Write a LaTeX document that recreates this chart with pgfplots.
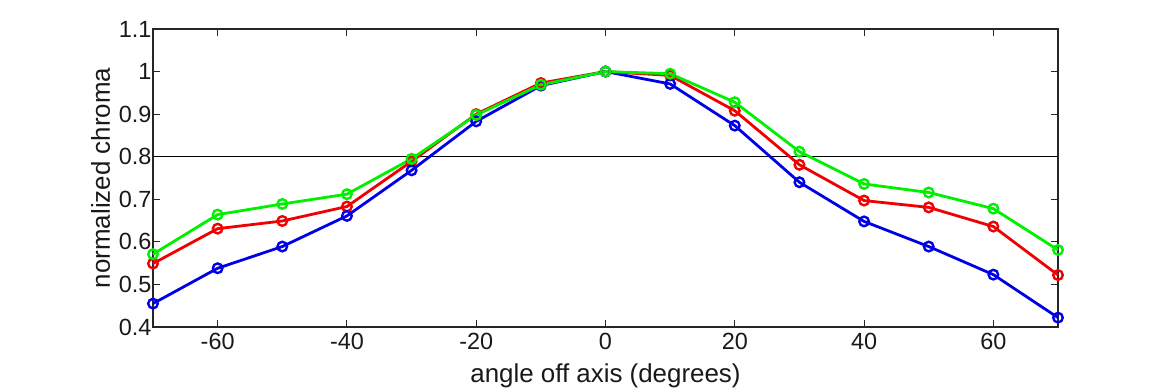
\documentclass[border=0pt]{standalone}
\usepackage{fontspec}
\setmainfont{Liberation Sans}
\usepackage{pgfplots}
\pgfplotsset{compat=1.18}
\definecolor{cgreen}{RGB}{0,240,0}
\definecolor{cred}{RGB}{240,0,0}
\definecolor{cblue}{RGB}{0,0,230}
\begin{document}
\begin{tikzpicture}
\useasboundingbox (0,0) rectangle (1170bp,390bp);
\begin{axis}[
  at={(153bp,63bp)}, anchor=south west,
  scale only axis, width=905bp, height=298bp,
  xmin=-70, xmax=70, ymin=0.4, ymax=1.1,
  xtick={-60,-40,...,60},
  ytick={0.4,0.5,...,1.1},
  yticklabels={0.4,0.5,0.6,0.7,0.8,0.9,1,1.1},
  tick align=inside, major tick length=7bp,
  axis line style={line width=1.3bp, black!85},
  every tick/.style={line width=1bp, black!85},
  tick label style={font=\fontsize{23.5}{26}\selectfont, text=black!90},
  xticklabel style={yshift=-3bp},
  yticklabel style={inner xsep=1.5bp},
  /pgf/number format/assume math mode=true,
  xlabel={angle off axis (degrees)},
  ylabel={normalized chroma},
  every axis x label/.style={at={(axis description cs:0.5,-0.165)}, anchor=center, font=\fontsize{26}{30}\selectfont, text=black!90},
  every axis y label/.style={at={(axis description cs:-0.058,0.5)}, rotate=90, anchor=center, font=\fontsize{26}{30}\selectfont, text=black!90},
  clip=false,
]
\addplot[black, line width=1.3bp, forget plot] coordinates {(-70,0.8) (70,0.8)};
\addplot[cred, line width=2.8bp, mark=o, mark size=4.8bp, mark options={line width=2.4bp}] coordinates {
(-70,0.549) (-60,0.631) (-50,0.649) (-40,0.683) (-30,0.789) (-20,0.900) (-10,0.973) (0,1.0) (10,0.991) (20,0.908) (30,0.781) (40,0.697) (50,0.681) (60,0.636) (70,0.522)};
\addplot[cblue, line width=2.8bp, mark=o, mark size=4.8bp, mark options={line width=2.4bp}] coordinates {
(-70,0.455) (-60,0.538) (-50,0.589) (-40,0.661) (-30,0.768) (-20,0.883) (-10,0.967) (0,1.0) (10,0.971) (20,0.873) (30,0.740) (40,0.648) (50,0.589) (60,0.523) (70,0.422)};
\addplot[cgreen, line width=2.8bp, mark=o, mark size=4.8bp, mark options={line width=2.4bp}] coordinates {
(-70,0.571) (-60,0.664) (-50,0.689) (-40,0.712) (-30,0.795) (-20,0.898) (-10,0.969) (0,1.0) (10,0.995) (20,0.928) (30,0.812) (40,0.736) (50,0.716) (60,0.678) (70,0.581)};
\end{axis}
\end{tikzpicture}
\end{document}
